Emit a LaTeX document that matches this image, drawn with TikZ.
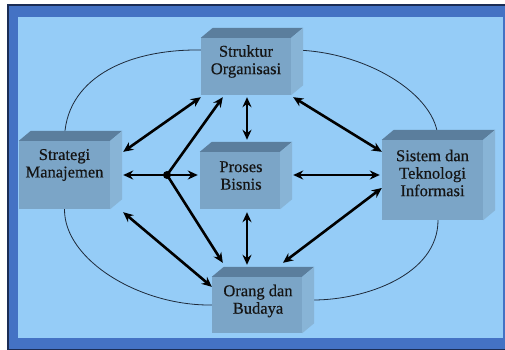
\documentclass[tikz,border=0pt]{standalone}
\usepackage{fontspec}
\setmainfont{Liberation Serif}
\newfontfamily\boxfont{Liberation Serif}[FakeBold=0.5]
\usetikzlibrary{arrows.meta}

\definecolor{frameDark}{HTML}{1B2D55}
\definecolor{frameBlue}{HTML}{4472C4}
\definecolor{paneBlue}{HTML}{95CCF7}
\definecolor{boxFront}{HTML}{7BA5C7}
\definecolor{boxTop}{HTML}{5B7E9D}
\definecolor{boxSide}{HTML}{88B4D6}
\definecolor{ringDark}{HTML}{1E2A3A}
\definecolor{textDark}{HTML}{151515}

% front face of a box plus its top and right faces, built from the node corners
\newcommand\drawcube[1]{%
  \fill[boxFront] (#1.north west) rectangle (#1.south east);
  \fill[boxtop] (#1.north west) -- ++(12,-10) -- ([xshift=12,yshift=10]#1.north east) -- (#1.north east) -- cycle;
  \fill[boxside] (#1.north east) -- ++(12,-10) -- ([xshift=12,yshift=10]#1.south east) -- (#1.south east) -- cycle;
}

\begin{document}
\begin{tikzpicture}[x=1pt,y=-1pt,
  box/.style={rectangle, draw=none, inner sep=0pt},
  boxtop/.style={fill=boxTop},
  boxside/.style={fill=boxSide},
  lbl/.style={font=\boxfont\fontsize{16.5}{17.5}\selectfont, align=center, text=textDark, inner sep=0pt},
  link/.style={line width=2.6pt, {Stealth[length=10pt,width=9pt]}-{Stealth[length=10pt,width=9pt]}},
  feed/.style={line width=2.6pt, -{Stealth[length=10pt,width=9pt]}},
  ring/.style={line width=0.8pt, draw=ringDark}
]
\useasboundingbox (0,0) rectangle (505,350);

% frame
\fill[white] (0,0) rectangle (505,350);
\fill[frameDark] (7,4) rectangle (505,350);
\fill[frameBlue] (9,6) rectangle (505,348.5);
\fill[paneBlue] (17.5,17) rectangle (503,338);

% box placeholders (front faces)
\node[box, minimum width=91, minimum height=68] (sm) at (64.5,175) {};
\node[box, minimum width=90, minimum height=57] (so) at (246,66.5) {};
\node[box, minimum width=80, minimum height=57] (pb) at (240,180.5) {};
\node[box, minimum width=101, minimum height=80] (si) at (432.5,180) {};
\node[box, minimum width=90, minimum height=56] (ob) at (257,305) {};

% ring running behind the outer boxes
\draw[ring] (sm.north) .. controls (64,80) and (125,49) .. ([yshift=16.5]so.west);
\draw[ring] ([yshift=16.5]so.east) .. controls (365,50) and (438,95) .. ([xshift=5.5]si.north);
\draw[ring] (sm.south) .. controls (64,260) and (140,306) .. (ob.west);
\draw[ring] ([xshift=5.5]si.south) .. controls (438,275) and (365,300) .. ([xshift=11,yshift=5]ob.east);

% boxes
\foreach \b in {sm,so,pb,si,ob}{\drawcube{\b}}

% labels
\node[lbl] (sm-t) at ([yshift=10]sm.center) {Strategi\\Manajemen};
\node[lbl] (so-t) at ([yshift=5]so.center) {Struktur\\Organisasi};
\node[lbl] (pb-t) at ([xshift=1,yshift=5]pb.center) {Proses\\Bisnis};
\node[lbl] (si-t) at ([yshift=7]si.center) {Sistem dan\\Teknologi\\Informasi};
\node[lbl] (ob-t) at ([xshift=1,yshift=4]ob.center) {Orang dan\\Budaya};

% hub point fanning out
\coordinate (hub) at (167,175);
\fill[black] (hub) circle (4);
\draw[feed] (hub) -- ([xshift=13]sm.east);
\draw[feed] (hub) -- ([xshift=-2,yshift=5.5]pb.west);
\draw[feed] (hub) -- ([xshift=22,yshift=-2]so.south west);
\draw[feed] (hub) -- ([xshift=11,yshift=14]ob.north west);

% two-way links
\draw[link] ([xshift=13,yshift=-11]sm.north east) -- ([yshift=-2]so.south west);
\draw[link] ([xshift=1,yshift=-2]so.south) -- ([xshift=7,yshift=12]pb.north);
\draw[link] ([xshift=2,yshift=-2]so.south east) -- ([yshift=-12]si.north west);
\draw[link] ([xshift=13,yshift=5.5]pb.east) -- ([xshift=-2,yshift=5]si.west);
\draw[link] ([xshift=13,yshift=-3]sm.south east) -- ([yshift=-10]ob.north west);
\draw[link] ([xshift=7,yshift=-3]pb.south) -- ([xshift=-10,yshift=12]ob.north);
\draw[link] ([yshift=-8]si.west) -- ([xshift=26,yshift=14]ob.north);
\end{tikzpicture}
\end{document}
